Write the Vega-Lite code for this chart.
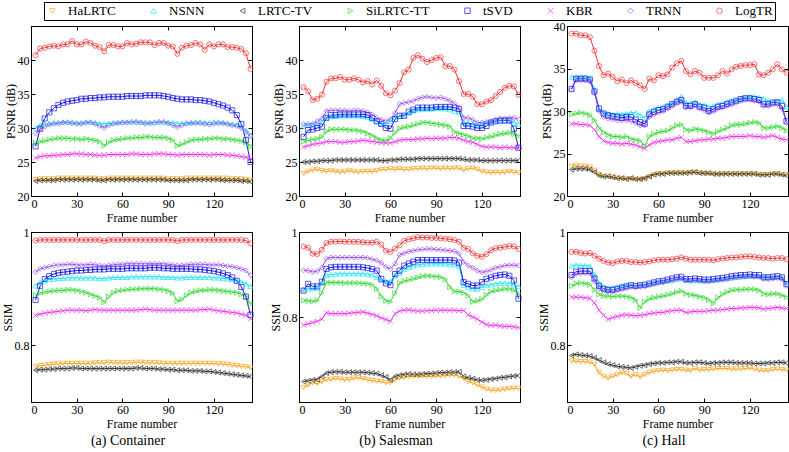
{
"$schema":"https://vega.github.io/schema/vega-lite/v6.json",
"background":"white",
"padding":{"left":0,"right":0,"top":1,"bottom":0},
"config":{
"font":"Liberation Serif",
"view":{"stroke":"black","strokeWidth":1},
"range":{"category":["#F6A623","#1EE3F5","#333333","#2FD92F","#1414E6","#F02EF0","#A050F0","#F03232"],
"symbol":["triangle-down","triangle-up","triangle-left","triangle-right","square","M-1,-1L1,1M-1,1L1,-1","diamond","circle"]},
"axis":{"grid":false,"domainColor":"black","tickColor":"black","labelColor":"black","titleColor":"black","labelFont":"Liberation Serif","titleFont":"Liberation Serif","labelFontSize":12,"titleFontSize":12,"titleFontWeight":"normal","tickSize":-4,"labelPadding":6,"domainWidth":1,"tickWidth":1},
"axisX":{"titlePadding":3},
"axisY":{"titlePadding":0},
"title":{"font":"Liberation Serif","fontSize":14,"fontWeight":"normal","color":"black","orient":"bottom","anchor":"middle","offset":4}
},
"datasets":{
"aP":[
{"f":3,"HaLRTC":22.4,"NSNN":30.0,"LRTC-TV":22.2,"SiLRTC-TT":27.8,"tSVD":27.3,"KBR":25.6,"TRNN":29.2,"LogTR":40.7},
{"f":6,"HaLRTC":22.5,"NSNN":30.4,"LRTC-TV":22.3,"SiLRTC-TT":28.0,"tSVD":29.9,"KBR":25.8,"TRNN":29.8,"LogTR":41.7},
{"f":9,"HaLRTC":22.5,"NSNN":30.6,"LRTC-TV":22.3,"SiLRTC-TT":28.1,"tSVD":31.4,"KBR":25.9,"TRNN":30.2,"LogTR":41.8},
{"f":12,"HaLRTC":22.5,"NSNN":30.7,"LRTC-TV":22.3,"SiLRTC-TT":28.3,"tSVD":32.3,"KBR":25.9,"TRNN":30.5,"LogTR":42.0},
{"f":15,"HaLRTC":22.5,"NSNN":30.8,"LRTC-TV":22.3,"SiLRTC-TT":28.4,"tSVD":32.9,"KBR":26.0,"TRNN":30.6,"LogTR":42.1},
{"f":18,"HaLRTC":22.6,"NSNN":30.8,"LRTC-TV":22.4,"SiLRTC-TT":28.5,"tSVD":33.4,"KBR":26.0,"TRNN":30.7,"LogTR":42.0},
{"f":21,"HaLRTC":22.6,"NSNN":30.9,"LRTC-TV":22.4,"SiLRTC-TT":28.5,"tSVD":33.7,"KBR":26.1,"TRNN":30.8,"LogTR":42.3},
{"f":24,"HaLRTC":22.6,"NSNN":30.9,"LRTC-TV":22.4,"SiLRTC-TT":28.5,"tSVD":33.9,"KBR":26.1,"TRNN":30.8,"LogTR":42.3},
{"f":27,"HaLRTC":22.6,"NSNN":30.9,"LRTC-TV":22.4,"SiLRTC-TT":28.4,"tSVD":34.0,"KBR":26.2,"TRNN":30.7,"LogTR":42.8},
{"f":30,"HaLRTC":22.6,"NSNN":30.8,"LRTC-TV":22.4,"SiLRTC-TT":28.4,"tSVD":34.1,"KBR":26.2,"TRNN":30.6,"LogTR":42.3},
{"f":33,"HaLRTC":22.6,"NSNN":30.8,"LRTC-TV":22.4,"SiLRTC-TT":28.3,"tSVD":34.3,"KBR":26.2,"TRNN":30.6,"LogTR":42.3},
{"f":36,"HaLRTC":22.6,"NSNN":30.9,"LRTC-TV":22.4,"SiLRTC-TT":28.4,"tSVD":34.3,"KBR":26.1,"TRNN":30.8,"LogTR":42.7},
{"f":39,"HaLRTC":22.6,"NSNN":30.9,"LRTC-TV":22.4,"SiLRTC-TT":28.3,"tSVD":34.4,"KBR":26.1,"TRNN":30.8,"LogTR":42.5},
{"f":42,"HaLRTC":22.6,"NSNN":30.8,"LRTC-TV":22.4,"SiLRTC-TT":28.2,"tSVD":34.4,"KBR":26.0,"TRNN":30.6,"LogTR":42.1},
{"f":45,"HaLRTC":22.5,"NSNN":30.7,"LRTC-TV":22.3,"SiLRTC-TT":28.0,"tSVD":34.5,"KBR":26.0,"TRNN":30.3,"LogTR":41.9},
{"f":48,"HaLRTC":22.5,"NSNN":30.6,"LRTC-TV":22.3,"SiLRTC-TT":27.4,"tSVD":34.5,"KBR":26.0,"TRNN":30.0,"LogTR":41.3},
{"f":51,"HaLRTC":22.6,"NSNN":30.7,"LRTC-TV":22.4,"SiLRTC-TT":27.9,"tSVD":34.6,"KBR":26.1,"TRNN":30.4,"LogTR":42.2},
{"f":54,"HaLRTC":22.6,"NSNN":30.8,"LRTC-TV":22.4,"SiLRTC-TT":28.2,"tSVD":34.6,"KBR":26.1,"TRNN":30.6,"LogTR":42.2},
{"f":57,"HaLRTC":22.6,"NSNN":30.8,"LRTC-TV":22.4,"SiLRTC-TT":28.3,"tSVD":34.6,"KBR":26.1,"TRNN":30.7,"LogTR":42.0},
{"f":60,"HaLRTC":22.6,"NSNN":30.9,"LRTC-TV":22.4,"SiLRTC-TT":28.4,"tSVD":34.6,"KBR":26.1,"TRNN":30.8,"LogTR":42.0},
{"f":63,"HaLRTC":22.6,"NSNN":30.9,"LRTC-TV":22.4,"SiLRTC-TT":28.5,"tSVD":34.7,"KBR":26.1,"TRNN":30.8,"LogTR":42.5},
{"f":66,"HaLRTC":22.6,"NSNN":30.9,"LRTC-TV":22.4,"SiLRTC-TT":28.5,"tSVD":34.7,"KBR":26.2,"TRNN":30.9,"LogTR":42.3},
{"f":69,"HaLRTC":22.6,"NSNN":30.9,"LRTC-TV":22.4,"SiLRTC-TT":28.6,"tSVD":34.7,"KBR":26.2,"TRNN":30.9,"LogTR":42.4},
{"f":72,"HaLRTC":22.6,"NSNN":30.9,"LRTC-TV":22.4,"SiLRTC-TT":28.6,"tSVD":34.7,"KBR":26.1,"TRNN":30.8,"LogTR":42.6},
{"f":75,"HaLRTC":22.6,"NSNN":30.9,"LRTC-TV":22.4,"SiLRTC-TT":28.7,"tSVD":34.8,"KBR":26.1,"TRNN":30.6,"LogTR":42.6},
{"f":78,"HaLRTC":22.6,"NSNN":30.8,"LRTC-TV":22.4,"SiLRTC-TT":28.7,"tSVD":34.8,"KBR":26.1,"TRNN":30.7,"LogTR":42.6},
{"f":81,"HaLRTC":22.6,"NSNN":30.8,"LRTC-TV":22.4,"SiLRTC-TT":28.6,"tSVD":34.8,"KBR":26.2,"TRNN":30.8,"LogTR":42.2},
{"f":84,"HaLRTC":22.6,"NSNN":30.9,"LRTC-TV":22.4,"SiLRTC-TT":28.6,"tSVD":34.8,"KBR":26.2,"TRNN":30.9,"LogTR":42.5},
{"f":87,"HaLRTC":22.6,"NSNN":30.9,"LRTC-TV":22.4,"SiLRTC-TT":28.6,"tSVD":34.7,"KBR":26.2,"TRNN":30.9,"LogTR":42.5},
{"f":90,"HaLRTC":22.5,"NSNN":30.8,"LRTC-TV":22.3,"SiLRTC-TT":28.5,"tSVD":34.6,"KBR":26.1,"TRNN":30.7,"LogTR":42.1},
{"f":93,"HaLRTC":22.5,"NSNN":30.8,"LRTC-TV":22.3,"SiLRTC-TT":28.2,"tSVD":34.4,"KBR":26.1,"TRNN":30.4,"LogTR":42.0},
{"f":96,"HaLRTC":22.5,"NSNN":30.7,"LRTC-TV":22.3,"SiLRTC-TT":27.4,"tSVD":34.3,"KBR":26.0,"TRNN":30.1,"LogTR":40.9},
{"f":99,"HaLRTC":22.5,"NSNN":30.7,"LRTC-TV":22.3,"SiLRTC-TT":27.6,"tSVD":34.2,"KBR":26.1,"TRNN":30.4,"LogTR":41.8},
{"f":102,"HaLRTC":22.6,"NSNN":30.8,"LRTC-TV":22.3,"SiLRTC-TT":27.9,"tSVD":34.2,"KBR":26.1,"TRNN":30.6,"LogTR":42.1},
{"f":105,"HaLRTC":22.6,"NSNN":30.8,"LRTC-TV":22.4,"SiLRTC-TT":28.2,"tSVD":34.2,"KBR":26.1,"TRNN":30.7,"LogTR":42.2},
{"f":108,"HaLRTC":22.6,"NSNN":30.9,"LRTC-TV":22.4,"SiLRTC-TT":28.3,"tSVD":34.1,"KBR":26.1,"TRNN":30.7,"LogTR":42.5},
{"f":111,"HaLRTC":22.6,"NSNN":30.9,"LRTC-TV":22.4,"SiLRTC-TT":28.3,"tSVD":34.1,"KBR":26.1,"TRNN":30.7,"LogTR":42.3},
{"f":114,"HaLRTC":22.6,"NSNN":30.8,"LRTC-TV":22.4,"SiLRTC-TT":28.4,"tSVD":34.0,"KBR":26.1,"TRNN":30.6,"LogTR":41.5},
{"f":117,"HaLRTC":22.6,"NSNN":30.8,"LRTC-TV":22.4,"SiLRTC-TT":28.4,"tSVD":33.9,"KBR":26.0,"TRNN":30.5,"LogTR":42.3},
{"f":120,"HaLRTC":22.6,"NSNN":30.9,"LRTC-TV":22.4,"SiLRTC-TT":28.5,"tSVD":33.7,"KBR":26.1,"TRNN":30.6,"LogTR":42.0},
{"f":123,"HaLRTC":22.6,"NSNN":30.9,"LRTC-TV":22.4,"SiLRTC-TT":28.5,"tSVD":33.5,"KBR":26.1,"TRNN":30.7,"LogTR":42.3},
{"f":126,"HaLRTC":22.6,"NSNN":30.8,"LRTC-TV":22.3,"SiLRTC-TT":28.4,"tSVD":33.3,"KBR":26.1,"TRNN":30.7,"LogTR":42.3},
{"f":129,"HaLRTC":22.6,"NSNN":30.7,"LRTC-TV":22.3,"SiLRTC-TT":28.4,"tSVD":33.0,"KBR":26.0,"TRNN":30.6,"LogTR":41.9},
{"f":132,"HaLRTC":22.5,"NSNN":30.6,"LRTC-TV":22.3,"SiLRTC-TT":28.3,"tSVD":32.6,"KBR":26.0,"TRNN":30.4,"LogTR":41.9},
{"f":135,"HaLRTC":22.5,"NSNN":30.5,"LRTC-TV":22.3,"SiLRTC-TT":28.2,"tSVD":31.9,"KBR":25.9,"TRNN":30.3,"LogTR":41.8},
{"f":138,"HaLRTC":22.5,"NSNN":30.3,"LRTC-TV":22.2,"SiLRTC-TT":28.1,"tSVD":30.6,"KBR":25.8,"TRNN":30.0,"LogTR":41.6},
{"f":141,"HaLRTC":22.4,"NSNN":29.7,"LRTC-TV":22.2,"SiLRTC-TT":27.9,"tSVD":28.2,"KBR":25.7,"TRNN":29.4,"LogTR":41.0},
{"f":144,"HaLRTC":22.3,"NSNN":29.0,"LRTC-TV":22.1,"SiLRTC-TT":27.3,"tSVD":25.0,"KBR":25.5,"TRNN":28.8,"LogTR":38.7}
],
"bP":[
{"f":3,"HaLRTC":23.3,"NSNN":30.3,"LRTC-TV":25.0,"SiLRTC-TT":28.0,"tSVD":28.7,"KBR":27.2,"TRNN":30.6,"LogTR":36.0},
{"f":6,"HaLRTC":23.6,"NSNN":30.4,"LRTC-TV":25.0,"SiLRTC-TT":28.2,"tSVD":29.7,"KBR":27.4,"TRNN":30.6,"LogTR":35.4},
{"f":9,"HaLRTC":23.8,"NSNN":30.5,"LRTC-TV":25.1,"SiLRTC-TT":28.3,"tSVD":29.8,"KBR":27.6,"TRNN":30.6,"LogTR":34.1},
{"f":12,"HaLRTC":23.9,"NSNN":30.6,"LRTC-TV":25.1,"SiLRTC-TT":28.4,"tSVD":30.0,"KBR":27.7,"TRNN":31.0,"LogTR":34.3},
{"f":15,"HaLRTC":23.7,"NSNN":30.9,"LRTC-TV":25.2,"SiLRTC-TT":28.7,"tSVD":30.2,"KBR":27.8,"TRNN":31.4,"LogTR":34.9},
{"f":18,"HaLRTC":23.6,"NSNN":31.6,"LRTC-TV":25.2,"SiLRTC-TT":29.5,"tSVD":31.5,"KBR":28.0,"TRNN":32.5,"LogTR":36.8},
{"f":21,"HaLRTC":23.7,"NSNN":31.7,"LRTC-TV":25.2,"SiLRTC-TT":29.8,"tSVD":31.9,"KBR":28.0,"TRNN":32.6,"LogTR":37.3},
{"f":24,"HaLRTC":23.6,"NSNN":31.7,"LRTC-TV":25.3,"SiLRTC-TT":29.8,"tSVD":31.9,"KBR":28.0,"TRNN":32.6,"LogTR":37.3},
{"f":27,"HaLRTC":23.5,"NSNN":31.8,"LRTC-TV":25.3,"SiLRTC-TT":29.8,"tSVD":32.0,"KBR":27.9,"TRNN":32.6,"LogTR":37.5},
{"f":30,"HaLRTC":23.6,"NSNN":31.8,"LRTC-TV":25.3,"SiLRTC-TT":29.8,"tSVD":32.0,"KBR":27.9,"TRNN":32.6,"LogTR":37.1},
{"f":33,"HaLRTC":23.7,"NSNN":31.8,"LRTC-TV":25.3,"SiLRTC-TT":29.7,"tSVD":32.0,"KBR":28.0,"TRNN":32.5,"LogTR":37.1},
{"f":36,"HaLRTC":23.6,"NSNN":31.8,"LRTC-TV":25.3,"SiLRTC-TT":29.7,"tSVD":32.0,"KBR":28.0,"TRNN":32.6,"LogTR":37.3},
{"f":39,"HaLRTC":23.5,"NSNN":31.8,"LRTC-TV":25.3,"SiLRTC-TT":29.6,"tSVD":32.0,"KBR":28.1,"TRNN":32.6,"LogTR":37.1},
{"f":42,"HaLRTC":23.6,"NSNN":31.7,"LRTC-TV":25.3,"SiLRTC-TT":29.5,"tSVD":32.0,"KBR":28.2,"TRNN":32.5,"LogTR":36.7},
{"f":45,"HaLRTC":23.6,"NSNN":31.6,"LRTC-TV":25.3,"SiLRTC-TT":29.2,"tSVD":31.9,"KBR":28.1,"TRNN":32.3,"LogTR":36.9},
{"f":48,"HaLRTC":23.6,"NSNN":31.3,"LRTC-TV":25.3,"SiLRTC-TT":28.9,"tSVD":31.5,"KBR":28.0,"TRNN":32.0,"LogTR":36.4},
{"f":51,"HaLRTC":23.7,"NSNN":31.0,"LRTC-TV":25.3,"SiLRTC-TT":28.5,"tSVD":31.0,"KBR":27.9,"TRNN":31.5,"LogTR":37.0},
{"f":54,"HaLRTC":23.9,"NSNN":30.7,"LRTC-TV":25.2,"SiLRTC-TT":28.2,"tSVD":30.6,"KBR":27.8,"TRNN":31.2,"LogTR":36.2},
{"f":57,"HaLRTC":23.9,"NSNN":30.6,"LRTC-TV":25.2,"SiLRTC-TT":28.2,"tSVD":30.0,"KBR":27.8,"TRNN":31.0,"LogTR":35.1},
{"f":60,"HaLRTC":24.0,"NSNN":31.0,"LRTC-TV":25.3,"SiLRTC-TT":28.5,"tSVD":29.9,"KBR":27.8,"TRNN":31.3,"LogTR":34.8},
{"f":63,"HaLRTC":23.9,"NSNN":31.6,"LRTC-TV":25.3,"SiLRTC-TT":29.3,"tSVD":31.3,"KBR":28.0,"TRNN":32.2,"LogTR":35.5},
{"f":66,"HaLRTC":24.0,"NSNN":31.7,"LRTC-TV":25.4,"SiLRTC-TT":29.9,"tSVD":31.8,"KBR":28.2,"TRNN":33.5,"LogTR":36.6},
{"f":69,"HaLRTC":23.9,"NSNN":31.8,"LRTC-TV":25.4,"SiLRTC-TT":30.1,"tSVD":31.8,"KBR":28.3,"TRNN":33.7,"LogTR":38.2},
{"f":72,"HaLRTC":23.9,"NSNN":32.2,"LRTC-TV":25.4,"SiLRTC-TT":30.2,"tSVD":32.4,"KBR":28.3,"TRNN":33.8,"LogTR":38.6},
{"f":75,"HaLRTC":24.0,"NSNN":32.5,"LRTC-TV":25.4,"SiLRTC-TT":30.4,"tSVD":32.7,"KBR":28.3,"TRNN":34.0,"LogTR":40.3},
{"f":78,"HaLRTC":24.0,"NSNN":32.7,"LRTC-TV":25.5,"SiLRTC-TT":30.6,"tSVD":33.0,"KBR":28.4,"TRNN":34.3,"LogTR":40.7},
{"f":81,"HaLRTC":24.1,"NSNN":32.8,"LRTC-TV":25.5,"SiLRTC-TT":30.8,"tSVD":33.0,"KBR":28.4,"TRNN":34.5,"LogTR":40.2},
{"f":84,"HaLRTC":24.0,"NSNN":32.8,"LRTC-TV":25.5,"SiLRTC-TT":30.8,"tSVD":33.0,"KBR":28.5,"TRNN":34.6,"LogTR":39.7},
{"f":87,"HaLRTC":24.1,"NSNN":32.8,"LRTC-TV":25.5,"SiLRTC-TT":30.7,"tSVD":33.0,"KBR":28.4,"TRNN":34.5,"LogTR":40.0},
{"f":90,"HaLRTC":24.1,"NSNN":32.9,"LRTC-TV":25.5,"SiLRTC-TT":30.6,"tSVD":33.1,"KBR":28.5,"TRNN":34.4,"LogTR":40.3},
{"f":93,"HaLRTC":24.0,"NSNN":32.9,"LRTC-TV":25.5,"SiLRTC-TT":30.5,"tSVD":33.1,"KBR":28.5,"TRNN":34.5,"LogTR":40.4},
{"f":96,"HaLRTC":24.1,"NSNN":32.8,"LRTC-TV":25.5,"SiLRTC-TT":30.4,"tSVD":33.1,"KBR":28.5,"TRNN":34.3,"LogTR":39.1},
{"f":99,"HaLRTC":24.0,"NSNN":32.7,"LRTC-TV":25.5,"SiLRTC-TT":30.2,"tSVD":33.1,"KBR":28.6,"TRNN":34.0,"LogTR":39.1},
{"f":102,"HaLRTC":24.1,"NSNN":32.5,"LRTC-TV":25.5,"SiLRTC-TT":29.4,"tSVD":33.0,"KBR":28.6,"TRNN":33.6,"LogTR":38.6},
{"f":105,"HaLRTC":24.1,"NSNN":32.3,"LRTC-TV":25.5,"SiLRTC-TT":29.2,"tSVD":32.8,"KBR":28.5,"TRNN":33.0,"LogTR":36.9},
{"f":108,"HaLRTC":23.8,"NSNN":30.9,"LRTC-TV":25.4,"SiLRTC-TT":29.0,"tSVD":30.3,"KBR":28.2,"TRNN":31.5,"LogTR":35.0},
{"f":111,"HaLRTC":24.0,"NSNN":30.8,"LRTC-TV":25.3,"SiLRTC-TT":28.8,"tSVD":30.3,"KBR":28.0,"TRNN":31.5,"LogTR":35.0},
{"f":114,"HaLRTC":24.1,"NSNN":30.6,"LRTC-TV":25.3,"SiLRTC-TT":28.5,"tSVD":30.2,"KBR":27.9,"TRNN":31.2,"LogTR":34.6},
{"f":117,"HaLRTC":23.9,"NSNN":30.5,"LRTC-TV":25.3,"SiLRTC-TT":28.5,"tSVD":30.0,"KBR":27.6,"TRNN":30.8,"LogTR":33.5},
{"f":120,"HaLRTC":23.6,"NSNN":30.6,"LRTC-TV":25.2,"SiLRTC-TT":28.4,"tSVD":30.0,"KBR":27.3,"TRNN":30.8,"LogTR":33.5},
{"f":123,"HaLRTC":23.5,"NSNN":30.8,"LRTC-TV":25.2,"SiLRTC-TT":28.6,"tSVD":30.3,"KBR":27.2,"TRNN":30.9,"LogTR":33.9},
{"f":126,"HaLRTC":23.4,"NSNN":30.9,"LRTC-TV":25.2,"SiLRTC-TT":28.7,"tSVD":30.8,"KBR":27.2,"TRNN":31.0,"LogTR":34.1},
{"f":129,"HaLRTC":23.5,"NSNN":31.0,"LRTC-TV":25.2,"SiLRTC-TT":28.9,"tSVD":31.0,"KBR":27.2,"TRNN":31.2,"LogTR":34.7},
{"f":132,"HaLRTC":23.4,"NSNN":31.1,"LRTC-TV":25.2,"SiLRTC-TT":29.1,"tSVD":31.1,"KBR":27.1,"TRNN":31.4,"LogTR":35.3},
{"f":135,"HaLRTC":23.5,"NSNN":31.1,"LRTC-TV":25.2,"SiLRTC-TT":29.2,"tSVD":31.1,"KBR":27.2,"TRNN":31.4,"LogTR":35.9},
{"f":138,"HaLRTC":23.6,"NSNN":31.1,"LRTC-TV":25.2,"SiLRTC-TT":29.3,"tSVD":31.1,"KBR":27.1,"TRNN":31.5,"LogTR":36.2},
{"f":141,"HaLRTC":23.5,"NSNN":30.8,"LRTC-TV":25.2,"SiLRTC-TT":29.1,"tSVD":29.9,"KBR":27.1,"TRNN":31.5,"LogTR":36.1},
{"f":144,"HaLRTC":23.4,"NSNN":30.6,"LRTC-TV":25.2,"SiLRTC-TT":28.8,"tSVD":27.1,"KBR":27.0,"TRNN":31.3,"LogTR":34.9}
],
"cP":[
{"f":3,"HaLRTC":23.5,"NSNN":34.0,"LRTC-TV":23.1,"SiLRTC-TT":29.6,"tSVD":32.6,"KBR":28.5,"TRNN":32.5,"LogTR":39.1},
{"f":6,"HaLRTC":23.6,"NSNN":34.0,"LRTC-TV":23.2,"SiLRTC-TT":29.7,"tSVD":33.8,"KBR":28.5,"TRNN":33.6,"LogTR":39.1},
{"f":9,"HaLRTC":23.5,"NSNN":34.0,"LRTC-TV":23.2,"SiLRTC-TT":29.8,"tSVD":33.8,"KBR":28.4,"TRNN":33.6,"LogTR":38.9},
{"f":12,"HaLRTC":23.5,"NSNN":34.0,"LRTC-TV":23.2,"SiLRTC-TT":29.7,"tSVD":33.8,"KBR":28.4,"TRNN":33.6,"LogTR":38.9},
{"f":15,"HaLRTC":23.4,"NSNN":33.9,"LRTC-TV":23.1,"SiLRTC-TT":29.5,"tSVD":33.7,"KBR":28.3,"TRNN":33.5,"LogTR":38.7},
{"f":18,"HaLRTC":23.0,"NSNN":32.5,"LRTC-TV":22.8,"SiLRTC-TT":28.9,"tSVD":32.3,"KBR":27.8,"TRNN":32.1,"LogTR":37.1},
{"f":21,"HaLRTC":22.5,"NSNN":30.2,"LRTC-TV":22.4,"SiLRTC-TT":28.0,"tSVD":30.3,"KBR":27.0,"TRNN":30.0,"LogTR":35.3},
{"f":24,"HaLRTC":22.3,"NSNN":29.8,"LRTC-TV":22.3,"SiLRTC-TT":27.5,"tSVD":29.7,"KBR":26.5,"TRNN":29.3,"LogTR":34.2},
{"f":27,"HaLRTC":22.3,"NSNN":29.7,"LRTC-TV":22.3,"SiLRTC-TT":27.2,"tSVD":29.5,"KBR":26.3,"TRNN":29.1,"LogTR":34.4},
{"f":30,"HaLRTC":22.2,"NSNN":29.6,"LRTC-TV":22.2,"SiLRTC-TT":27.0,"tSVD":29.4,"KBR":26.2,"TRNN":29.0,"LogTR":34.0},
{"f":33,"HaLRTC":22.1,"NSNN":29.7,"LRTC-TV":22.1,"SiLRTC-TT":27.0,"tSVD":29.3,"KBR":26.2,"TRNN":28.9,"LogTR":33.5},
{"f":36,"HaLRTC":22.0,"NSNN":29.6,"LRTC-TV":22.1,"SiLRTC-TT":26.9,"tSVD":29.2,"KBR":26.1,"TRNN":28.9,"LogTR":33.7},
{"f":39,"HaLRTC":22.0,"NSNN":29.7,"LRTC-TV":22.0,"SiLRTC-TT":27.0,"tSVD":29.3,"KBR":26.2,"TRNN":28.9,"LogTR":33.3},
{"f":42,"HaLRTC":22.0,"NSNN":29.8,"LRTC-TV":22.1,"SiLRTC-TT":26.7,"tSVD":29.3,"KBR":26.1,"TRNN":28.8,"LogTR":33.6},
{"f":45,"HaLRTC":21.9,"NSNN":29.8,"LRTC-TV":22.0,"SiLRTC-TT":26.6,"tSVD":29.0,"KBR":26.0,"TRNN":28.6,"LogTR":33.3},
{"f":48,"HaLRTC":21.9,"NSNN":29.5,"LRTC-TV":22.0,"SiLRTC-TT":26.5,"tSVD":28.7,"KBR":25.8,"TRNN":28.3,"LogTR":33.0},
{"f":51,"HaLRTC":22.0,"NSNN":29.2,"LRTC-TV":22.1,"SiLRTC-TT":25.9,"tSVD":28.5,"KBR":25.6,"TRNN":28.3,"LogTR":32.6},
{"f":54,"HaLRTC":22.3,"NSNN":30.0,"LRTC-TV":22.3,"SiLRTC-TT":27.0,"tSVD":29.6,"KBR":26.0,"TRNN":29.3,"LogTR":33.8},
{"f":57,"HaLRTC":22.5,"NSNN":30.2,"LRTC-TV":22.5,"SiLRTC-TT":27.3,"tSVD":29.9,"KBR":26.3,"TRNN":29.6,"LogTR":33.6},
{"f":60,"HaLRTC":22.6,"NSNN":30.4,"LRTC-TV":22.6,"SiLRTC-TT":27.5,"tSVD":30.1,"KBR":26.4,"TRNN":29.8,"LogTR":34.2},
{"f":63,"HaLRTC":22.6,"NSNN":30.5,"LRTC-TV":22.6,"SiLRTC-TT":27.6,"tSVD":30.2,"KBR":26.5,"TRNN":30.0,"LogTR":34.1},
{"f":66,"HaLRTC":22.7,"NSNN":30.7,"LRTC-TV":22.7,"SiLRTC-TT":27.7,"tSVD":30.5,"KBR":26.6,"TRNN":30.3,"LogTR":34.3},
{"f":69,"HaLRTC":22.7,"NSNN":30.9,"LRTC-TV":22.7,"SiLRTC-TT":28.0,"tSVD":30.8,"KBR":26.6,"TRNN":30.6,"LogTR":35.1},
{"f":72,"HaLRTC":22.7,"NSNN":31.3,"LRTC-TV":22.7,"SiLRTC-TT":28.3,"tSVD":31.1,"KBR":26.8,"TRNN":30.9,"LogTR":35.6},
{"f":75,"HaLRTC":22.7,"NSNN":31.7,"LRTC-TV":22.7,"SiLRTC-TT":28.4,"tSVD":31.3,"KBR":26.9,"TRNN":31.1,"LogTR":35.9},
{"f":78,"HaLRTC":22.7,"NSNN":31.0,"LRTC-TV":22.7,"SiLRTC-TT":27.8,"tSVD":30.6,"KBR":26.4,"TRNN":30.4,"LogTR":34.7},
{"f":81,"HaLRTC":22.7,"NSNN":30.9,"LRTC-TV":22.8,"SiLRTC-TT":27.7,"tSVD":30.6,"KBR":26.4,"TRNN":30.4,"LogTR":34.3},
{"f":84,"HaLRTC":22.8,"NSNN":31.1,"LRTC-TV":22.8,"SiLRTC-TT":27.9,"tSVD":30.8,"KBR":26.5,"TRNN":30.6,"LogTR":34.7},
{"f":87,"HaLRTC":22.7,"NSNN":30.8,"LRTC-TV":22.7,"SiLRTC-TT":27.8,"tSVD":30.5,"KBR":26.6,"TRNN":30.3,"LogTR":34.5},
{"f":90,"HaLRTC":22.6,"NSNN":30.7,"LRTC-TV":22.7,"SiLRTC-TT":27.7,"tSVD":30.4,"KBR":26.6,"TRNN":30.1,"LogTR":33.9},
{"f":93,"HaLRTC":22.6,"NSNN":30.5,"LRTC-TV":22.7,"SiLRTC-TT":27.5,"tSVD":30.0,"KBR":26.7,"TRNN":29.8,"LogTR":33.9},
{"f":96,"HaLRTC":22.6,"NSNN":30.6,"LRTC-TV":22.6,"SiLRTC-TT":27.3,"tSVD":30.2,"KBR":26.7,"TRNN":30.0,"LogTR":33.9},
{"f":99,"HaLRTC":22.5,"NSNN":30.8,"LRTC-TV":22.6,"SiLRTC-TT":27.6,"tSVD":30.5,"KBR":26.8,"TRNN":30.3,"LogTR":34.2},
{"f":102,"HaLRTC":22.6,"NSNN":30.9,"LRTC-TV":22.6,"SiLRTC-TT":27.8,"tSVD":30.6,"KBR":26.8,"TRNN":30.4,"LogTR":34.7},
{"f":105,"HaLRTC":22.6,"NSNN":31.1,"LRTC-TV":22.6,"SiLRTC-TT":28.0,"tSVD":30.8,"KBR":26.9,"TRNN":30.6,"LogTR":34.4},
{"f":108,"HaLRTC":22.6,"NSNN":31.2,"LRTC-TV":22.6,"SiLRTC-TT":28.3,"tSVD":31.0,"KBR":27.0,"TRNN":30.8,"LogTR":34.9},
{"f":111,"HaLRTC":22.6,"NSNN":31.3,"LRTC-TV":22.6,"SiLRTC-TT":28.4,"tSVD":31.2,"KBR":27.0,"TRNN":31.0,"LogTR":35.2},
{"f":114,"HaLRTC":22.6,"NSNN":31.5,"LRTC-TV":22.6,"SiLRTC-TT":28.4,"tSVD":31.4,"KBR":27.0,"TRNN":31.2,"LogTR":35.3},
{"f":117,"HaLRTC":22.6,"NSNN":31.6,"LRTC-TV":22.6,"SiLRTC-TT":28.5,"tSVD":31.5,"KBR":27.0,"TRNN":31.3,"LogTR":35.4},
{"f":120,"HaLRTC":22.6,"NSNN":31.7,"LRTC-TV":22.6,"SiLRTC-TT":28.6,"tSVD":31.5,"KBR":27.1,"TRNN":31.3,"LogTR":35.4},
{"f":123,"HaLRTC":22.6,"NSNN":31.7,"LRTC-TV":22.6,"SiLRTC-TT":28.7,"tSVD":31.4,"KBR":27.0,"TRNN":31.2,"LogTR":35.5},
{"f":126,"HaLRTC":22.5,"NSNN":31.6,"LRTC-TV":22.5,"SiLRTC-TT":28.6,"tSVD":31.3,"KBR":27.0,"TRNN":31.1,"LogTR":34.3},
{"f":129,"HaLRTC":22.5,"NSNN":31.5,"LRTC-TV":22.5,"SiLRTC-TT":28.0,"tSVD":30.8,"KBR":26.9,"TRNN":30.6,"LogTR":34.2},
{"f":132,"HaLRTC":22.5,"NSNN":31.2,"LRTC-TV":22.5,"SiLRTC-TT":28.0,"tSVD":30.8,"KBR":27.0,"TRNN":30.6,"LogTR":34.5},
{"f":135,"HaLRTC":22.6,"NSNN":31.0,"LRTC-TV":22.6,"SiLRTC-TT":28.1,"tSVD":31.0,"KBR":27.1,"TRNN":30.8,"LogTR":34.9},
{"f":138,"HaLRTC":22.6,"NSNN":31.2,"LRTC-TV":22.6,"SiLRTC-TT":28.2,"tSVD":31.0,"KBR":26.9,"TRNN":30.8,"LogTR":35.5},
{"f":141,"HaLRTC":22.5,"NSNN":31.3,"LRTC-TV":22.5,"SiLRTC-TT":28.0,"tSVD":30.6,"KBR":26.7,"TRNN":30.3,"LogTR":34.9},
{"f":144,"HaLRTC":22.5,"NSNN":30.5,"LRTC-TV":22.4,"SiLRTC-TT":27.7,"tSVD":28.8,"KBR":26.6,"TRNN":28.6,"LogTR":34.5}
],
"aS":[
{"f":3,"HaLRTC":0.762,"NSNN":0.905,"LRTC-TV":0.756,"SiLRTC-TT":0.888,"tSVD":0.880,"KBR":0.853,"TRNN":0.929,"LogTR":0.985},
{"f":6,"HaLRTC":0.764,"NSNN":0.911,"LRTC-TV":0.757,"SiLRTC-TT":0.892,"tSVD":0.905,"KBR":0.855,"TRNN":0.935,"LogTR":0.986},
{"f":9,"HaLRTC":0.765,"NSNN":0.914,"LRTC-TV":0.757,"SiLRTC-TT":0.894,"tSVD":0.917,"KBR":0.857,"TRNN":0.937,"LogTR":0.986},
{"f":12,"HaLRTC":0.766,"NSNN":0.916,"LRTC-TV":0.758,"SiLRTC-TT":0.895,"tSVD":0.922,"KBR":0.858,"TRNN":0.939,"LogTR":0.986},
{"f":15,"HaLRTC":0.767,"NSNN":0.917,"LRTC-TV":0.758,"SiLRTC-TT":0.896,"tSVD":0.926,"KBR":0.859,"TRNN":0.941,"LogTR":0.986},
{"f":18,"HaLRTC":0.767,"NSNN":0.918,"LRTC-TV":0.759,"SiLRTC-TT":0.897,"tSVD":0.928,"KBR":0.860,"TRNN":0.942,"LogTR":0.986},
{"f":21,"HaLRTC":0.768,"NSNN":0.918,"LRTC-TV":0.759,"SiLRTC-TT":0.897,"tSVD":0.929,"KBR":0.861,"TRNN":0.942,"LogTR":0.986},
{"f":24,"HaLRTC":0.768,"NSNN":0.919,"LRTC-TV":0.759,"SiLRTC-TT":0.898,"tSVD":0.930,"KBR":0.862,"TRNN":0.943,"LogTR":0.986},
{"f":27,"HaLRTC":0.768,"NSNN":0.919,"LRTC-TV":0.760,"SiLRTC-TT":0.898,"tSVD":0.931,"KBR":0.862,"TRNN":0.943,"LogTR":0.986},
{"f":30,"HaLRTC":0.768,"NSNN":0.919,"LRTC-TV":0.760,"SiLRTC-TT":0.897,"tSVD":0.932,"KBR":0.862,"TRNN":0.942,"LogTR":0.986},
{"f":33,"HaLRTC":0.768,"NSNN":0.919,"LRTC-TV":0.759,"SiLRTC-TT":0.895,"tSVD":0.932,"KBR":0.862,"TRNN":0.942,"LogTR":0.986},
{"f":36,"HaLRTC":0.768,"NSNN":0.919,"LRTC-TV":0.759,"SiLRTC-TT":0.893,"tSVD":0.933,"KBR":0.861,"TRNN":0.942,"LogTR":0.986},
{"f":39,"HaLRTC":0.768,"NSNN":0.919,"LRTC-TV":0.759,"SiLRTC-TT":0.890,"tSVD":0.933,"KBR":0.862,"TRNN":0.943,"LogTR":0.986},
{"f":42,"HaLRTC":0.769,"NSNN":0.919,"LRTC-TV":0.759,"SiLRTC-TT":0.887,"tSVD":0.934,"KBR":0.863,"TRNN":0.942,"LogTR":0.986},
{"f":45,"HaLRTC":0.769,"NSNN":0.918,"LRTC-TV":0.759,"SiLRTC-TT":0.884,"tSVD":0.934,"KBR":0.862,"TRNN":0.941,"LogTR":0.986},
{"f":48,"HaLRTC":0.769,"NSNN":0.918,"LRTC-TV":0.759,"SiLRTC-TT":0.876,"tSVD":0.934,"KBR":0.862,"TRNN":0.940,"LogTR":0.984},
{"f":51,"HaLRTC":0.770,"NSNN":0.919,"LRTC-TV":0.759,"SiLRTC-TT":0.886,"tSVD":0.935,"KBR":0.862,"TRNN":0.941,"LogTR":0.986},
{"f":54,"HaLRTC":0.769,"NSNN":0.920,"LRTC-TV":0.759,"SiLRTC-TT":0.893,"tSVD":0.935,"KBR":0.862,"TRNN":0.942,"LogTR":0.986},
{"f":57,"HaLRTC":0.769,"NSNN":0.920,"LRTC-TV":0.759,"SiLRTC-TT":0.896,"tSVD":0.935,"KBR":0.862,"TRNN":0.943,"LogTR":0.986},
{"f":60,"HaLRTC":0.769,"NSNN":0.920,"LRTC-TV":0.759,"SiLRTC-TT":0.897,"tSVD":0.935,"KBR":0.862,"TRNN":0.943,"LogTR":0.986},
{"f":63,"HaLRTC":0.769,"NSNN":0.920,"LRTC-TV":0.759,"SiLRTC-TT":0.898,"tSVD":0.936,"KBR":0.862,"TRNN":0.944,"LogTR":0.986},
{"f":66,"HaLRTC":0.769,"NSNN":0.921,"LRTC-TV":0.759,"SiLRTC-TT":0.899,"tSVD":0.936,"KBR":0.862,"TRNN":0.944,"LogTR":0.986},
{"f":69,"HaLRTC":0.770,"NSNN":0.921,"LRTC-TV":0.760,"SiLRTC-TT":0.899,"tSVD":0.936,"KBR":0.862,"TRNN":0.944,"LogTR":0.986},
{"f":72,"HaLRTC":0.770,"NSNN":0.921,"LRTC-TV":0.760,"SiLRTC-TT":0.900,"tSVD":0.936,"KBR":0.863,"TRNN":0.944,"LogTR":0.986},
{"f":75,"HaLRTC":0.769,"NSNN":0.921,"LRTC-TV":0.759,"SiLRTC-TT":0.900,"tSVD":0.936,"KBR":0.864,"TRNN":0.944,"LogTR":0.986},
{"f":78,"HaLRTC":0.769,"NSNN":0.921,"LRTC-TV":0.759,"SiLRTC-TT":0.900,"tSVD":0.937,"KBR":0.863,"TRNN":0.944,"LogTR":0.986},
{"f":81,"HaLRTC":0.769,"NSNN":0.921,"LRTC-TV":0.759,"SiLRTC-TT":0.900,"tSVD":0.937,"KBR":0.862,"TRNN":0.944,"LogTR":0.986},
{"f":84,"HaLRTC":0.769,"NSNN":0.921,"LRTC-TV":0.758,"SiLRTC-TT":0.899,"tSVD":0.937,"KBR":0.862,"TRNN":0.944,"LogTR":0.986},
{"f":87,"HaLRTC":0.768,"NSNN":0.920,"LRTC-TV":0.758,"SiLRTC-TT":0.898,"tSVD":0.936,"KBR":0.862,"TRNN":0.944,"LogTR":0.986},
{"f":90,"HaLRTC":0.768,"NSNN":0.920,"LRTC-TV":0.757,"SiLRTC-TT":0.896,"tSVD":0.936,"KBR":0.862,"TRNN":0.943,"LogTR":0.986},
{"f":93,"HaLRTC":0.768,"NSNN":0.920,"LRTC-TV":0.757,"SiLRTC-TT":0.892,"tSVD":0.935,"KBR":0.862,"TRNN":0.942,"LogTR":0.986},
{"f":96,"HaLRTC":0.768,"NSNN":0.919,"LRTC-TV":0.756,"SiLRTC-TT":0.878,"tSVD":0.935,"KBR":0.862,"TRNN":0.941,"LogTR":0.984},
{"f":99,"HaLRTC":0.768,"NSNN":0.919,"LRTC-TV":0.756,"SiLRTC-TT":0.881,"tSVD":0.935,"KBR":0.862,"TRNN":0.941,"LogTR":0.986},
{"f":102,"HaLRTC":0.768,"NSNN":0.920,"LRTC-TV":0.756,"SiLRTC-TT":0.888,"tSVD":0.935,"KBR":0.862,"TRNN":0.942,"LogTR":0.986},
{"f":105,"HaLRTC":0.768,"NSNN":0.920,"LRTC-TV":0.755,"SiLRTC-TT":0.893,"tSVD":0.935,"KBR":0.862,"TRNN":0.943,"LogTR":0.986},
{"f":108,"HaLRTC":0.768,"NSNN":0.920,"LRTC-TV":0.755,"SiLRTC-TT":0.895,"tSVD":0.934,"KBR":0.862,"TRNN":0.943,"LogTR":0.986},
{"f":111,"HaLRTC":0.768,"NSNN":0.920,"LRTC-TV":0.755,"SiLRTC-TT":0.897,"tSVD":0.934,"KBR":0.863,"TRNN":0.943,"LogTR":0.986},
{"f":114,"HaLRTC":0.768,"NSNN":0.920,"LRTC-TV":0.754,"SiLRTC-TT":0.897,"tSVD":0.933,"KBR":0.863,"TRNN":0.943,"LogTR":0.986},
{"f":117,"HaLRTC":0.768,"NSNN":0.920,"LRTC-TV":0.754,"SiLRTC-TT":0.898,"tSVD":0.932,"KBR":0.864,"TRNN":0.942,"LogTR":0.986},
{"f":120,"HaLRTC":0.768,"NSNN":0.919,"LRTC-TV":0.753,"SiLRTC-TT":0.898,"tSVD":0.931,"KBR":0.862,"TRNN":0.942,"LogTR":0.986},
{"f":123,"HaLRTC":0.767,"NSNN":0.919,"LRTC-TV":0.752,"SiLRTC-TT":0.897,"tSVD":0.929,"KBR":0.861,"TRNN":0.942,"LogTR":0.986},
{"f":126,"HaLRTC":0.767,"NSNN":0.918,"LRTC-TV":0.751,"SiLRTC-TT":0.896,"tSVD":0.927,"KBR":0.860,"TRNN":0.941,"LogTR":0.986},
{"f":129,"HaLRTC":0.766,"NSNN":0.917,"LRTC-TV":0.750,"SiLRTC-TT":0.895,"tSVD":0.924,"KBR":0.859,"TRNN":0.940,"LogTR":0.986},
{"f":132,"HaLRTC":0.765,"NSNN":0.916,"LRTC-TV":0.749,"SiLRTC-TT":0.894,"tSVD":0.920,"KBR":0.858,"TRNN":0.939,"LogTR":0.986},
{"f":135,"HaLRTC":0.764,"NSNN":0.914,"LRTC-TV":0.748,"SiLRTC-TT":0.893,"tSVD":0.914,"KBR":0.857,"TRNN":0.937,"LogTR":0.986},
{"f":138,"HaLRTC":0.763,"NSNN":0.912,"LRTC-TV":0.747,"SiLRTC-TT":0.890,"tSVD":0.903,"KBR":0.855,"TRNN":0.935,"LogTR":0.986},
{"f":141,"HaLRTC":0.762,"NSNN":0.909,"LRTC-TV":0.746,"SiLRTC-TT":0.886,"tSVD":0.886,"KBR":0.853,"TRNN":0.932,"LogTR":0.985},
{"f":144,"HaLRTC":0.760,"NSNN":0.904,"LRTC-TV":0.745,"SiLRTC-TT":0.873,"tSVD":0.854,"KBR":0.847,"TRNN":0.924,"LogTR":0.980}
],
"bS":[
{"f":3,"HaLRTC":0.634,"NSNN":0.865,"LRTC-TV":0.648,"SiLRTC-TT":0.839,"tSVD":0.862,"KBR":0.781,"TRNN":0.910,"LogTR":0.966},
{"f":6,"HaLRTC":0.640,"NSNN":0.866,"LRTC-TV":0.650,"SiLRTC-TT":0.838,"tSVD":0.878,"KBR":0.784,"TRNN":0.909,"LogTR":0.963},
{"f":9,"HaLRTC":0.645,"NSNN":0.867,"LRTC-TV":0.652,"SiLRTC-TT":0.837,"tSVD":0.872,"KBR":0.787,"TRNN":0.906,"LogTR":0.949},
{"f":12,"HaLRTC":0.643,"NSNN":0.868,"LRTC-TV":0.653,"SiLRTC-TT":0.839,"tSVD":0.872,"KBR":0.790,"TRNN":0.908,"LogTR":0.948},
{"f":15,"HaLRTC":0.648,"NSNN":0.880,"LRTC-TV":0.660,"SiLRTC-TT":0.857,"tSVD":0.883,"KBR":0.795,"TRNN":0.916,"LogTR":0.958},
{"f":18,"HaLRTC":0.652,"NSNN":0.898,"LRTC-TV":0.668,"SiLRTC-TT":0.882,"tSVD":0.913,"KBR":0.810,"TRNN":0.937,"LogTR":0.974},
{"f":21,"HaLRTC":0.653,"NSNN":0.900,"LRTC-TV":0.670,"SiLRTC-TT":0.881,"tSVD":0.917,"KBR":0.808,"TRNN":0.940,"LogTR":0.977},
{"f":24,"HaLRTC":0.655,"NSNN":0.901,"LRTC-TV":0.671,"SiLRTC-TT":0.881,"tSVD":0.918,"KBR":0.808,"TRNN":0.940,"LogTR":0.977},
{"f":27,"HaLRTC":0.654,"NSNN":0.902,"LRTC-TV":0.671,"SiLRTC-TT":0.881,"tSVD":0.918,"KBR":0.808,"TRNN":0.940,"LogTR":0.978},
{"f":30,"HaLRTC":0.652,"NSNN":0.902,"LRTC-TV":0.670,"SiLRTC-TT":0.880,"tSVD":0.918,"KBR":0.808,"TRNN":0.940,"LogTR":0.977},
{"f":33,"HaLRTC":0.653,"NSNN":0.902,"LRTC-TV":0.670,"SiLRTC-TT":0.880,"tSVD":0.918,"KBR":0.809,"TRNN":0.940,"LogTR":0.977},
{"f":36,"HaLRTC":0.656,"NSNN":0.902,"LRTC-TV":0.670,"SiLRTC-TT":0.880,"tSVD":0.918,"KBR":0.810,"TRNN":0.940,"LogTR":0.977},
{"f":39,"HaLRTC":0.657,"NSNN":0.902,"LRTC-TV":0.670,"SiLRTC-TT":0.880,"tSVD":0.918,"KBR":0.811,"TRNN":0.940,"LogTR":0.977},
{"f":42,"HaLRTC":0.655,"NSNN":0.902,"LRTC-TV":0.670,"SiLRTC-TT":0.879,"tSVD":0.917,"KBR":0.812,"TRNN":0.940,"LogTR":0.976},
{"f":45,"HaLRTC":0.652,"NSNN":0.901,"LRTC-TV":0.669,"SiLRTC-TT":0.878,"tSVD":0.915,"KBR":0.809,"TRNN":0.939,"LogTR":0.975},
{"f":48,"HaLRTC":0.650,"NSNN":0.899,"LRTC-TV":0.668,"SiLRTC-TT":0.876,"tSVD":0.913,"KBR":0.806,"TRNN":0.936,"LogTR":0.975},
{"f":51,"HaLRTC":0.649,"NSNN":0.893,"LRTC-TV":0.667,"SiLRTC-TT":0.866,"tSVD":0.909,"KBR":0.803,"TRNN":0.933,"LogTR":0.977},
{"f":54,"HaLRTC":0.648,"NSNN":0.887,"LRTC-TV":0.663,"SiLRTC-TT":0.848,"tSVD":0.890,"KBR":0.798,"TRNN":0.927,"LogTR":0.970},
{"f":57,"HaLRTC":0.645,"NSNN":0.884,"LRTC-TV":0.659,"SiLRTC-TT":0.838,"tSVD":0.879,"KBR":0.794,"TRNN":0.918,"LogTR":0.956},
{"f":60,"HaLRTC":0.646,"NSNN":0.884,"LRTC-TV":0.652,"SiLRTC-TT":0.836,"tSVD":0.875,"KBR":0.790,"TRNN":0.913,"LogTR":0.953},
{"f":63,"HaLRTC":0.652,"NSNN":0.897,"LRTC-TV":0.660,"SiLRTC-TT":0.856,"tSVD":0.901,"KBR":0.808,"TRNN":0.925,"LogTR":0.961},
{"f":66,"HaLRTC":0.656,"NSNN":0.903,"LRTC-TV":0.663,"SiLRTC-TT":0.880,"tSVD":0.909,"KBR":0.814,"TRNN":0.946,"LogTR":0.969},
{"f":69,"HaLRTC":0.658,"NSNN":0.912,"LRTC-TV":0.665,"SiLRTC-TT":0.885,"tSVD":0.921,"KBR":0.816,"TRNN":0.950,"LogTR":0.979},
{"f":72,"HaLRTC":0.660,"NSNN":0.917,"LRTC-TV":0.666,"SiLRTC-TT":0.887,"tSVD":0.926,"KBR":0.817,"TRNN":0.954,"LogTR":0.983},
{"f":75,"HaLRTC":0.660,"NSNN":0.920,"LRTC-TV":0.665,"SiLRTC-TT":0.890,"tSVD":0.930,"KBR":0.815,"TRNN":0.956,"LogTR":0.985},
{"f":78,"HaLRTC":0.661,"NSNN":0.923,"LRTC-TV":0.665,"SiLRTC-TT":0.893,"tSVD":0.934,"KBR":0.814,"TRNN":0.958,"LogTR":0.988},
{"f":81,"HaLRTC":0.661,"NSNN":0.924,"LRTC-TV":0.666,"SiLRTC-TT":0.896,"tSVD":0.934,"KBR":0.814,"TRNN":0.959,"LogTR":0.987},
{"f":84,"HaLRTC":0.660,"NSNN":0.925,"LRTC-TV":0.667,"SiLRTC-TT":0.897,"tSVD":0.934,"KBR":0.815,"TRNN":0.960,"LogTR":0.987},
{"f":87,"HaLRTC":0.660,"NSNN":0.925,"LRTC-TV":0.667,"SiLRTC-TT":0.896,"tSVD":0.934,"KBR":0.815,"TRNN":0.960,"LogTR":0.986},
{"f":90,"HaLRTC":0.661,"NSNN":0.925,"LRTC-TV":0.668,"SiLRTC-TT":0.895,"tSVD":0.934,"KBR":0.816,"TRNN":0.959,"LogTR":0.986},
{"f":93,"HaLRTC":0.661,"NSNN":0.925,"LRTC-TV":0.669,"SiLRTC-TT":0.894,"tSVD":0.934,"KBR":0.816,"TRNN":0.958,"LogTR":0.985},
{"f":96,"HaLRTC":0.662,"NSNN":0.925,"LRTC-TV":0.669,"SiLRTC-TT":0.888,"tSVD":0.934,"KBR":0.816,"TRNN":0.957,"LogTR":0.984},
{"f":99,"HaLRTC":0.663,"NSNN":0.924,"LRTC-TV":0.670,"SiLRTC-TT":0.870,"tSVD":0.934,"KBR":0.816,"TRNN":0.956,"LogTR":0.983},
{"f":102,"HaLRTC":0.663,"NSNN":0.923,"LRTC-TV":0.670,"SiLRTC-TT":0.860,"tSVD":0.933,"KBR":0.816,"TRNN":0.955,"LogTR":0.981},
{"f":105,"HaLRTC":0.661,"NSNN":0.920,"LRTC-TV":0.671,"SiLRTC-TT":0.860,"tSVD":0.928,"KBR":0.815,"TRNN":0.949,"LogTR":0.977},
{"f":108,"HaLRTC":0.655,"NSNN":0.875,"LRTC-TV":0.660,"SiLRTC-TT":0.857,"tSVD":0.882,"KBR":0.815,"TRNN":0.930,"LogTR":0.963},
{"f":111,"HaLRTC":0.648,"NSNN":0.870,"LRTC-TV":0.657,"SiLRTC-TT":0.850,"tSVD":0.878,"KBR":0.805,"TRNN":0.921,"LogTR":0.960},
{"f":114,"HaLRTC":0.645,"NSNN":0.866,"LRTC-TV":0.655,"SiLRTC-TT":0.836,"tSVD":0.874,"KBR":0.800,"TRNN":0.916,"LogTR":0.950},
{"f":117,"HaLRTC":0.640,"NSNN":0.866,"LRTC-TV":0.652,"SiLRTC-TT":0.838,"tSVD":0.874,"KBR":0.795,"TRNN":0.909,"LogTR":0.944},
{"f":120,"HaLRTC":0.635,"NSNN":0.870,"LRTC-TV":0.651,"SiLRTC-TT":0.842,"tSVD":0.882,"KBR":0.788,"TRNN":0.905,"LogTR":0.942},
{"f":123,"HaLRTC":0.630,"NSNN":0.875,"LRTC-TV":0.652,"SiLRTC-TT":0.852,"tSVD":0.890,"KBR":0.782,"TRNN":0.907,"LogTR":0.948},
{"f":126,"HaLRTC":0.628,"NSNN":0.876,"LRTC-TV":0.654,"SiLRTC-TT":0.860,"tSVD":0.893,"KBR":0.780,"TRNN":0.911,"LogTR":0.957},
{"f":129,"HaLRTC":0.627,"NSNN":0.878,"LRTC-TV":0.655,"SiLRTC-TT":0.862,"tSVD":0.897,"KBR":0.781,"TRNN":0.916,"LogTR":0.962},
{"f":132,"HaLRTC":0.628,"NSNN":0.880,"LRTC-TV":0.657,"SiLRTC-TT":0.864,"tSVD":0.899,"KBR":0.779,"TRNN":0.918,"LogTR":0.963},
{"f":135,"HaLRTC":0.630,"NSNN":0.880,"LRTC-TV":0.658,"SiLRTC-TT":0.866,"tSVD":0.900,"KBR":0.778,"TRNN":0.921,"LogTR":0.965},
{"f":138,"HaLRTC":0.631,"NSNN":0.879,"LRTC-TV":0.660,"SiLRTC-TT":0.866,"tSVD":0.897,"KBR":0.778,"TRNN":0.922,"LogTR":0.967},
{"f":141,"HaLRTC":0.632,"NSNN":0.876,"LRTC-TV":0.661,"SiLRTC-TT":0.863,"tSVD":0.886,"KBR":0.777,"TRNN":0.922,"LogTR":0.966},
{"f":144,"HaLRTC":0.632,"NSNN":0.872,"LRTC-TV":0.662,"SiLRTC-TT":0.855,"tSVD":0.843,"KBR":0.775,"TRNN":0.921,"LogTR":0.960}
],
"cS":[
{"f":3,"HaLRTC":0.772,"NSNN":0.940,"LRTC-TV":0.782,"SiLRTC-TT":0.905,"tSVD":0.924,"KBR":0.885,"TRNN":0.920,"LogTR":0.965},
{"f":6,"HaLRTC":0.772,"NSNN":0.942,"LRTC-TV":0.784,"SiLRTC-TT":0.909,"tSVD":0.930,"KBR":0.885,"TRNN":0.926,"LogTR":0.965},
{"f":9,"HaLRTC":0.771,"NSNN":0.941,"LRTC-TV":0.783,"SiLRTC-TT":0.910,"tSVD":0.931,"KBR":0.885,"TRNN":0.927,"LogTR":0.963},
{"f":12,"HaLRTC":0.771,"NSNN":0.941,"LRTC-TV":0.782,"SiLRTC-TT":0.909,"tSVD":0.931,"KBR":0.884,"TRNN":0.927,"LogTR":0.962},
{"f":15,"HaLRTC":0.770,"NSNN":0.940,"LRTC-TV":0.781,"SiLRTC-TT":0.907,"tSVD":0.931,"KBR":0.883,"TRNN":0.927,"LogTR":0.963},
{"f":18,"HaLRTC":0.766,"NSNN":0.925,"LRTC-TV":0.778,"SiLRTC-TT":0.898,"tSVD":0.918,"KBR":0.875,"TRNN":0.913,"LogTR":0.958},
{"f":21,"HaLRTC":0.752,"NSNN":0.910,"LRTC-TV":0.774,"SiLRTC-TT":0.890,"tSVD":0.905,"KBR":0.862,"TRNN":0.900,"LogTR":0.953},
{"f":24,"HaLRTC":0.745,"NSNN":0.903,"LRTC-TV":0.770,"SiLRTC-TT":0.887,"tSVD":0.900,"KBR":0.853,"TRNN":0.896,"LogTR":0.949},
{"f":27,"HaLRTC":0.742,"NSNN":0.901,"LRTC-TV":0.767,"SiLRTC-TT":0.887,"tSVD":0.898,"KBR":0.846,"TRNN":0.895,"LogTR":0.946},
{"f":30,"HaLRTC":0.745,"NSNN":0.902,"LRTC-TV":0.765,"SiLRTC-TT":0.886,"tSVD":0.898,"KBR":0.849,"TRNN":0.895,"LogTR":0.945},
{"f":33,"HaLRTC":0.748,"NSNN":0.903,"LRTC-TV":0.763,"SiLRTC-TT":0.887,"tSVD":0.900,"KBR":0.851,"TRNN":0.897,"LogTR":0.948},
{"f":36,"HaLRTC":0.752,"NSNN":0.905,"LRTC-TV":0.762,"SiLRTC-TT":0.887,"tSVD":0.902,"KBR":0.853,"TRNN":0.899,"LogTR":0.949},
{"f":39,"HaLRTC":0.750,"NSNN":0.906,"LRTC-TV":0.761,"SiLRTC-TT":0.886,"tSVD":0.904,"KBR":0.854,"TRNN":0.901,"LogTR":0.949},
{"f":42,"HaLRTC":0.745,"NSNN":0.906,"LRTC-TV":0.760,"SiLRTC-TT":0.884,"tSVD":0.906,"KBR":0.853,"TRNN":0.903,"LogTR":0.947},
{"f":45,"HaLRTC":0.748,"NSNN":0.905,"LRTC-TV":0.762,"SiLRTC-TT":0.880,"tSVD":0.905,"KBR":0.852,"TRNN":0.902,"LogTR":0.947},
{"f":48,"HaLRTC":0.744,"NSNN":0.906,"LRTC-TV":0.764,"SiLRTC-TT":0.866,"tSVD":0.906,"KBR":0.853,"TRNN":0.903,"LogTR":0.946},
{"f":51,"HaLRTC":0.748,"NSNN":0.906,"LRTC-TV":0.765,"SiLRTC-TT":0.877,"tSVD":0.907,"KBR":0.854,"TRNN":0.904,"LogTR":0.947},
{"f":54,"HaLRTC":0.752,"NSNN":0.908,"LRTC-TV":0.767,"SiLRTC-TT":0.882,"tSVD":0.909,"KBR":0.856,"TRNN":0.906,"LogTR":0.948},
{"f":57,"HaLRTC":0.754,"NSNN":0.910,"LRTC-TV":0.768,"SiLRTC-TT":0.884,"tSVD":0.911,"KBR":0.857,"TRNN":0.908,"LogTR":0.950},
{"f":60,"HaLRTC":0.755,"NSNN":0.912,"LRTC-TV":0.769,"SiLRTC-TT":0.886,"tSVD":0.913,"KBR":0.858,"TRNN":0.910,"LogTR":0.951},
{"f":63,"HaLRTC":0.756,"NSNN":0.913,"LRTC-TV":0.769,"SiLRTC-TT":0.887,"tSVD":0.914,"KBR":0.858,"TRNN":0.911,"LogTR":0.951},
{"f":66,"HaLRTC":0.755,"NSNN":0.914,"LRTC-TV":0.770,"SiLRTC-TT":0.889,"tSVD":0.916,"KBR":0.860,"TRNN":0.913,"LogTR":0.951},
{"f":69,"HaLRTC":0.756,"NSNN":0.915,"LRTC-TV":0.770,"SiLRTC-TT":0.891,"tSVD":0.918,"KBR":0.861,"TRNN":0.915,"LogTR":0.952},
{"f":72,"HaLRTC":0.757,"NSNN":0.917,"LRTC-TV":0.771,"SiLRTC-TT":0.894,"tSVD":0.920,"KBR":0.862,"TRNN":0.917,"LogTR":0.953},
{"f":75,"HaLRTC":0.757,"NSNN":0.918,"LRTC-TV":0.771,"SiLRTC-TT":0.896,"tSVD":0.921,"KBR":0.862,"TRNN":0.918,"LogTR":0.955},
{"f":78,"HaLRTC":0.756,"NSNN":0.915,"LRTC-TV":0.769,"SiLRTC-TT":0.891,"tSVD":0.917,"KBR":0.858,"TRNN":0.914,"LogTR":0.953},
{"f":81,"HaLRTC":0.755,"NSNN":0.914,"LRTC-TV":0.769,"SiLRTC-TT":0.889,"tSVD":0.917,"KBR":0.859,"TRNN":0.914,"LogTR":0.951},
{"f":84,"HaLRTC":0.759,"NSNN":0.915,"LRTC-TV":0.770,"SiLRTC-TT":0.888,"tSVD":0.918,"KBR":0.860,"TRNN":0.915,"LogTR":0.951},
{"f":87,"HaLRTC":0.756,"NSNN":0.914,"LRTC-TV":0.770,"SiLRTC-TT":0.886,"tSVD":0.917,"KBR":0.860,"TRNN":0.914,"LogTR":0.951},
{"f":90,"HaLRTC":0.757,"NSNN":0.914,"LRTC-TV":0.769,"SiLRTC-TT":0.884,"tSVD":0.916,"KBR":0.860,"TRNN":0.913,"LogTR":0.951},
{"f":93,"HaLRTC":0.757,"NSNN":0.914,"LRTC-TV":0.768,"SiLRTC-TT":0.880,"tSVD":0.916,"KBR":0.861,"TRNN":0.913,"LogTR":0.951},
{"f":96,"HaLRTC":0.758,"NSNN":0.915,"LRTC-TV":0.769,"SiLRTC-TT":0.874,"tSVD":0.917,"KBR":0.862,"TRNN":0.914,"LogTR":0.950},
{"f":99,"HaLRTC":0.759,"NSNN":0.916,"LRTC-TV":0.769,"SiLRTC-TT":0.884,"tSVD":0.918,"KBR":0.862,"TRNN":0.915,"LogTR":0.952},
{"f":102,"HaLRTC":0.759,"NSNN":0.917,"LRTC-TV":0.770,"SiLRTC-TT":0.890,"tSVD":0.919,"KBR":0.863,"TRNN":0.916,"LogTR":0.953},
{"f":105,"HaLRTC":0.759,"NSNN":0.918,"LRTC-TV":0.770,"SiLRTC-TT":0.894,"tSVD":0.920,"KBR":0.864,"TRNN":0.917,"LogTR":0.954},
{"f":108,"HaLRTC":0.758,"NSNN":0.919,"LRTC-TV":0.770,"SiLRTC-TT":0.897,"tSVD":0.922,"KBR":0.865,"TRNN":0.919,"LogTR":0.955},
{"f":111,"HaLRTC":0.758,"NSNN":0.920,"LRTC-TV":0.769,"SiLRTC-TT":0.898,"tSVD":0.923,"KBR":0.865,"TRNN":0.920,"LogTR":0.955},
{"f":114,"HaLRTC":0.758,"NSNN":0.921,"LRTC-TV":0.769,"SiLRTC-TT":0.898,"tSVD":0.924,"KBR":0.866,"TRNN":0.921,"LogTR":0.956},
{"f":117,"HaLRTC":0.759,"NSNN":0.922,"LRTC-TV":0.769,"SiLRTC-TT":0.899,"tSVD":0.924,"KBR":0.866,"TRNN":0.921,"LogTR":0.957},
{"f":120,"HaLRTC":0.760,"NSNN":0.922,"LRTC-TV":0.769,"SiLRTC-TT":0.899,"tSVD":0.925,"KBR":0.867,"TRNN":0.922,"LogTR":0.957},
{"f":123,"HaLRTC":0.758,"NSNN":0.922,"LRTC-TV":0.768,"SiLRTC-TT":0.899,"tSVD":0.924,"KBR":0.867,"TRNN":0.921,"LogTR":0.956},
{"f":126,"HaLRTC":0.756,"NSNN":0.922,"LRTC-TV":0.768,"SiLRTC-TT":0.897,"tSVD":0.924,"KBR":0.866,"TRNN":0.921,"LogTR":0.955},
{"f":129,"HaLRTC":0.755,"NSNN":0.921,"LRTC-TV":0.768,"SiLRTC-TT":0.891,"tSVD":0.920,"KBR":0.864,"TRNN":0.917,"LogTR":0.954},
{"f":132,"HaLRTC":0.755,"NSNN":0.920,"LRTC-TV":0.769,"SiLRTC-TT":0.890,"tSVD":0.920,"KBR":0.865,"TRNN":0.917,"LogTR":0.954},
{"f":135,"HaLRTC":0.757,"NSNN":0.920,"LRTC-TV":0.769,"SiLRTC-TT":0.891,"tSVD":0.921,"KBR":0.866,"TRNN":0.918,"LogTR":0.953},
{"f":138,"HaLRTC":0.758,"NSNN":0.921,"LRTC-TV":0.770,"SiLRTC-TT":0.891,"tSVD":0.922,"KBR":0.867,"TRNN":0.919,"LogTR":0.954},
{"f":141,"HaLRTC":0.757,"NSNN":0.920,"LRTC-TV":0.770,"SiLRTC-TT":0.888,"tSVD":0.920,"KBR":0.866,"TRNN":0.917,"LogTR":0.954},
{"f":144,"HaLRTC":0.756,"NSNN":0.910,"LRTC-TV":0.769,"SiLRTC-TT":0.885,"tSVD":0.908,"KBR":0.865,"TRNN":0.905,"LogTR":0.952}
]
},
"hconcat":[
{"title":{"text":"(a) Container","font":"Liberation Serif","fontSize":14,"fontWeight":"normal","orient":"bottom","anchor":"middle","offset":4},"spacing":1,"vconcat":[
{"width":221,"height":170,"data":{"name":"aP"},
"transform":[{"fold":["HaLRTC","NSNN","LRTC-TV","SiLRTC-TT","tSVD","KBR","TRNN","LogTR"],"as":["series","value"]}],
"encoding":{
"x":{"field":"f","type":"quantitative","scale":{"domain":[0,145],"nice":false},"axis":{"orient":"bottom","title":"Frame number","values":[0,30,60,90,120]}},
"y":{"field":"value","type":"quantitative","scale":{"domain":[20,45],"nice":false,"zero":false},"axis":{"orient":"left","title":"PSNR (dB)","values":[20,25,30,35,40]}},
"color":{"field":"series","type":"nominal","scale":{"domain":["HaLRTC","NSNN","LRTC-TV","SiLRTC-TT","tSVD","KBR","TRNN","LogTR"]},
"legend":{"title":null,"orient":"none","legendX":13,"legendY":-24,"direction":"horizontal","columns":8,"columnPadding":31,"symbolSize":30,"symbolStrokeWidth":1,"labelOffset":9,"labelFont":"Liberation Serif","labelFontSize":13,"labelColor":"black","strokeColor":"black","padding":2}}
},
"layer":[
{"mark":{"type":"line","strokeWidth":1}},
{"mark":{"type":"point","filled":false,"size":26,"strokeWidth":1},
"encoding":{"shape":{"field":"series","type":"nominal","scale":{"domain":["HaLRTC","NSNN","LRTC-TV","SiLRTC-TT","tSVD","KBR","TRNN","LogTR"]},"legend":null},
"x":{"field":"f","type":"quantitative","axis":{"orient":"top","labels":false,"title":null,"values":[0,30,60,90,120]}},
"y":{"field":"value","type":"quantitative","axis":{"orient":"right","labels":false,"title":null,"values":[20,25,30,35,40]}}}}
]},
{"width":221,"height":170,"data":{"name":"aS"},
"transform":[{"fold":["HaLRTC","NSNN","LRTC-TV","SiLRTC-TT","tSVD","KBR","TRNN","LogTR"],"as":["series","value"]}],
"encoding":{
"x":{"field":"f","type":"quantitative","scale":{"domain":[0,145],"nice":false},"axis":{"orient":"bottom","title":"Frame number","values":[0,30,60,90,120]}},
"y":{"field":"value","type":"quantitative","scale":{"domain":[0.7,1],"nice":false,"zero":false},"axis":{"orient":"left","title":"SSIM","values":[0.8,1],"format":"~g"}},
"color":{"field":"series","type":"nominal","scale":{"domain":["HaLRTC","NSNN","LRTC-TV","SiLRTC-TT","tSVD","KBR","TRNN","LogTR"]},"legend":null}
},
"layer":[
{"mark":{"type":"line","strokeWidth":1}},
{"mark":{"type":"point","filled":false,"size":26,"strokeWidth":1},
"encoding":{"shape":{"field":"series","type":"nominal","scale":{"domain":["HaLRTC","NSNN","LRTC-TV","SiLRTC-TT","tSVD","KBR","TRNN","LogTR"]},"legend":null},
"x":{"field":"f","type":"quantitative","axis":{"orient":"top","labels":false,"title":null,"values":[0,30,60,90,120]}},
"y":{"field":"value","type":"quantitative","axis":{"orient":"right","labels":false,"title":null,"values":[0.8,1]}}}}
]}
]},
{"title":{"text":"(b) Salesman","font":"Liberation Serif","fontSize":14,"fontWeight":"normal","orient":"bottom","anchor":"middle","offset":4},"spacing":1,"vconcat":[
{"width":221,"height":170,"data":{"name":"bP"},
"transform":[{"fold":["HaLRTC","NSNN","LRTC-TV","SiLRTC-TT","tSVD","KBR","TRNN","LogTR"],"as":["series","value"]}],
"encoding":{
"x":{"field":"f","type":"quantitative","scale":{"domain":[0,145],"nice":false},"axis":{"orient":"bottom","title":"Frame number","values":[0,30,60,90,120]}},
"y":{"field":"value","type":"quantitative","scale":{"domain":[20,45],"nice":false,"zero":false},"axis":{"orient":"left","title":"PSNR (dB)","values":[20,25,30,35,40]}},
"color":{"field":"series","type":"nominal","scale":{"domain":["HaLRTC","NSNN","LRTC-TV","SiLRTC-TT","tSVD","KBR","TRNN","LogTR"]},"legend":null}
},
"layer":[
{"mark":{"type":"line","strokeWidth":1}},
{"mark":{"type":"point","filled":false,"size":26,"strokeWidth":1},
"encoding":{"shape":{"field":"series","type":"nominal","scale":{"domain":["HaLRTC","NSNN","LRTC-TV","SiLRTC-TT","tSVD","KBR","TRNN","LogTR"]},"legend":null},
"x":{"field":"f","type":"quantitative","axis":{"orient":"top","labels":false,"title":null,"values":[0,30,60,90,120]}},
"y":{"field":"value","type":"quantitative","axis":{"orient":"right","labels":false,"title":null,"values":[20,25,30,35,40]}}}}
]},
{"width":221,"height":170,"data":{"name":"bS"},
"transform":[{"fold":["HaLRTC","NSNN","LRTC-TV","SiLRTC-TT","tSVD","KBR","TRNN","LogTR"],"as":["series","value"]}],
"encoding":{
"x":{"field":"f","type":"quantitative","scale":{"domain":[0,145],"nice":false},"axis":{"orient":"bottom","title":"Frame number","values":[0,30,60,90,120]}},
"y":{"field":"value","type":"quantitative","scale":{"domain":[0.6,1],"nice":false,"zero":false},"axis":{"orient":"left","title":"SSIM","values":[0.8,1],"format":"~g"}},
"color":{"field":"series","type":"nominal","scale":{"domain":["HaLRTC","NSNN","LRTC-TV","SiLRTC-TT","tSVD","KBR","TRNN","LogTR"]},"legend":null}
},
"layer":[
{"mark":{"type":"line","strokeWidth":1}},
{"mark":{"type":"point","filled":false,"size":26,"strokeWidth":1},
"encoding":{"shape":{"field":"series","type":"nominal","scale":{"domain":["HaLRTC","NSNN","LRTC-TV","SiLRTC-TT","tSVD","KBR","TRNN","LogTR"]},"legend":null},
"x":{"field":"f","type":"quantitative","axis":{"orient":"top","labels":false,"title":null,"values":[0,30,60,90,120]}},
"y":{"field":"value","type":"quantitative","axis":{"orient":"right","labels":false,"title":null,"values":[0.8,1]}}}}
]}
]},
{"title":{"text":"(c) Hall","font":"Liberation Serif","fontSize":14,"fontWeight":"normal","orient":"bottom","anchor":"middle","offset":4},"spacing":1,"vconcat":[
{"width":221,"height":170,"data":{"name":"cP"},
"transform":[{"fold":["HaLRTC","NSNN","LRTC-TV","SiLRTC-TT","tSVD","KBR","TRNN","LogTR"],"as":["series","value"]}],
"encoding":{
"x":{"field":"f","type":"quantitative","scale":{"domain":[0,145],"nice":false},"axis":{"orient":"bottom","title":"Frame number","values":[0,30,60,90,120]}},
"y":{"field":"value","type":"quantitative","scale":{"domain":[20,40],"nice":false,"zero":false},"axis":{"orient":"left","title":"PSNR (dB)","values":[20,25,30,35,40]}},
"color":{"field":"series","type":"nominal","scale":{"domain":["HaLRTC","NSNN","LRTC-TV","SiLRTC-TT","tSVD","KBR","TRNN","LogTR"]},"legend":null}
},
"layer":[
{"mark":{"type":"line","strokeWidth":1}},
{"mark":{"type":"point","filled":false,"size":26,"strokeWidth":1},
"encoding":{"shape":{"field":"series","type":"nominal","scale":{"domain":["HaLRTC","NSNN","LRTC-TV","SiLRTC-TT","tSVD","KBR","TRNN","LogTR"]},"legend":null},
"x":{"field":"f","type":"quantitative","axis":{"orient":"top","labels":false,"title":null,"values":[0,30,60,90,120]}},
"y":{"field":"value","type":"quantitative","axis":{"orient":"right","labels":false,"title":null,"values":[20,25,30,35,40]}}}}
]},
{"width":221,"height":170,"data":{"name":"cS"},
"transform":[{"fold":["HaLRTC","NSNN","LRTC-TV","SiLRTC-TT","tSVD","KBR","TRNN","LogTR"],"as":["series","value"]}],
"encoding":{
"x":{"field":"f","type":"quantitative","scale":{"domain":[0,145],"nice":false},"axis":{"orient":"bottom","title":"Frame number","values":[0,30,60,90,120]}},
"y":{"field":"value","type":"quantitative","scale":{"domain":[0.7,1],"nice":false,"zero":false},"axis":{"orient":"left","title":"SSIM","values":[0.8,1],"format":"~g"}},
"color":{"field":"series","type":"nominal","scale":{"domain":["HaLRTC","NSNN","LRTC-TV","SiLRTC-TT","tSVD","KBR","TRNN","LogTR"]},"legend":null}
},
"layer":[
{"mark":{"type":"line","strokeWidth":1}},
{"mark":{"type":"point","filled":false,"size":26,"strokeWidth":1},
"encoding":{"shape":{"field":"series","type":"nominal","scale":{"domain":["HaLRTC","NSNN","LRTC-TV","SiLRTC-TT","tSVD","KBR","TRNN","LogTR"]},"legend":null},
"x":{"field":"f","type":"quantitative","axis":{"orient":"top","labels":false,"title":null,"values":[0,30,60,90,120]}},
"y":{"field":"value","type":"quantitative","axis":{"orient":"right","labels":false,"title":null,"values":[0.8,1]}}}}
]}
]}
],
"spacing":12
}
